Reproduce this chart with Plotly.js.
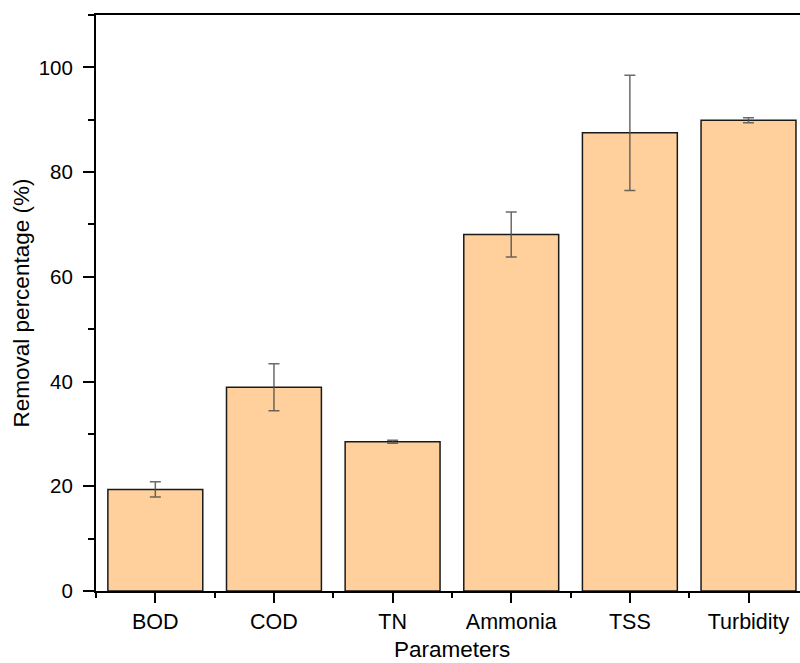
<!DOCTYPE html>
<html>
<head>
<meta charset="utf-8">
<script src="https://cdn.plot.ly/plotly-3.0.1.min.js"></script>
<style>html,body{margin:0;padding:0;background:#fff;}#chart{width:800px;height:663px;}</style>
</head>
<body>
<div id="chart"></div>
<script>
const categories = ["BOD", "COD", "TN", "Ammonia", "TSS", "Turbidity"];
const removal = [19.4, 38.9, 28.5, 68.1, 87.5, 89.9];
const errors = [1.45, 4.5, 0.3, 4.3, 11.0, 0.5];
const xTitle = 'Parameters';
const yTitle = 'Removal percentage (%)';

const xIdx = categories.map((c, i) => i);

const trace = {
  type: 'bar',
  x: xIdx,
  y: removal,
  width: 0.8,
  marker: {color: 'rgb(255,208,155)', line: {color: '#1a1a1a', width: 1.5}},
  error_y: {type: 'data', array: errors, visible: true, color: 'rgba(80,80,80,0.85)', thickness: 1.5, width: 5.5},
  hoverinfo: 'none'
};

const font = {family: '"Liberation Sans", Arial, sans-serif', color: '#000'};

const layout = {
  width: 800, height: 663,
  margin: {l: 96, r: 0, t: 15, b: 72},
  paper_bgcolor: '#fff', plot_bgcolor: '#fff',
  showlegend: false,
  font: Object.assign({size: 20}, font),
  xaxis: {
    range: [-0.5, 5.434],
    tickvals: xIdx, ticktext: categories,
    showgrid: false, zeroline: false,
    showline: true, linecolor: '#000', linewidth: 2, mirror: true,
    ticks: 'outside', ticklen: 10, tickwidth: 2, tickcolor: '#000',
    tickfont: Object.assign({size: 21.5}, font),
    minor: {tick0: 0.5, dtick: 1, ticks: 'outside', ticklen: 5, tickwidth: 2, tickcolor: '#000', showgrid: false},
    title: {text: ''}
  },
  yaxis: {
    range: [0, 110],
    dtick: 20, tick0: 0,
    showgrid: false, zeroline: false,
    showline: true, linecolor: '#000', linewidth: 2, mirror: false,
    ticks: 'outside', ticklen: 11, tickwidth: 2, tickcolor: '#000',
    ticklabelstandoff: 6,
    tickfont: Object.assign({size: 20.5}, font),
    minor: {tick0: 0, dtick: 10, ticks: 'outside', ticklen: 6, tickwidth: 2, tickcolor: '#000', showgrid: false},
    title: {text: yTitle, font: Object.assign({size: 22.5}, font), standoff: 3}
  },
  annotations: [{
    text: xTitle, xref: 'x', yref: 'paper', x: 2.5, y: 0,
    xanchor: 'center', yanchor: 'top', yshift: -44, showarrow: false,
    font: Object.assign({size: 22.5}, font)
  }]
};

Plotly.newPlot('chart', [trace], layout, {displayModeBar: false, staticPlot: true});
</script>
</body>
</html>
